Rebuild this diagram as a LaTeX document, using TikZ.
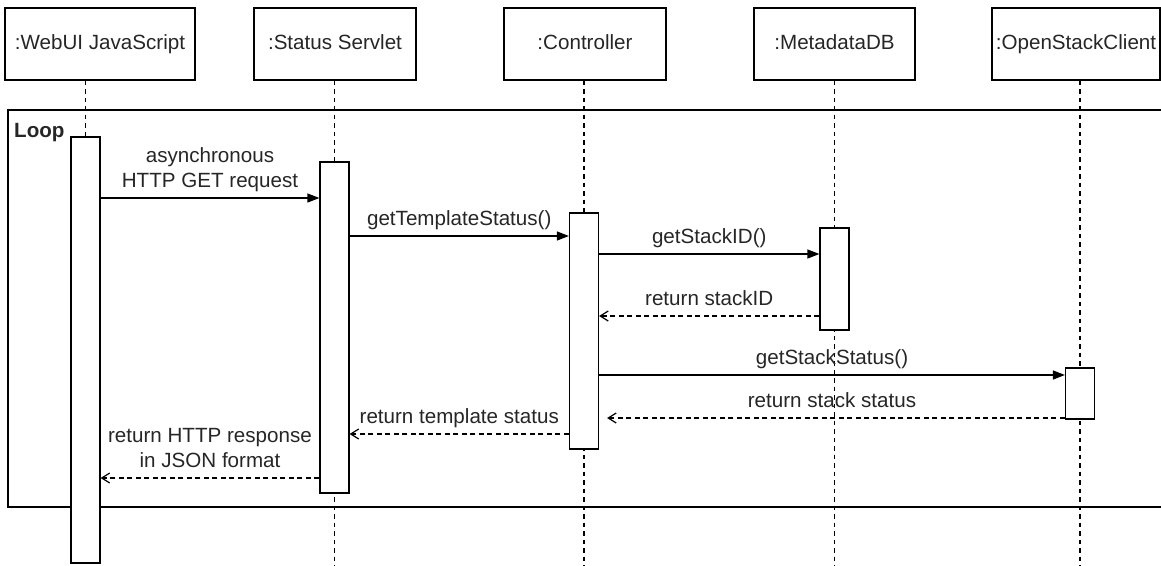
\documentclass[tikz,border=0pt]{standalone}
\usepackage{fontspec}
\setmainfont{Liberation Sans}
\usetikzlibrary{arrows.meta,calc}
\pgfdeclarelayer{background}
\pgfsetlayers{background,main}
\definecolor{ink}{HTML}{262626}
\begin{document}
\begin{tikzpicture}[x=1pt,y=-1pt,
  every node/.style={font=\fontsize{20.6}{24.5}\selectfont,text=ink},
  header/.style={draw,line width=1.2pt,minimum height=72pt,inner sep=0pt,
    text height=15pt,text depth=4.5pt},
  activation/.style={draw,fill=white,line width=1.2pt,minimum width=29pt,inner sep=0pt},
  lifeline/.style={line width=1.2pt,dash pattern=on 4.5pt off 4pt},
  frame/.style={line width=1.3pt},
  call/.style={line width=1.2pt,-{Triangle[length=12pt,width=9pt]}},
  reply/.style={line width=1.2pt,dash pattern=on 5pt off 3.5pt,
    -{Straight Barb[length=8pt,width=10pt]}},
  msg/.style={anchor=base,inner sep=0pt,yshift=11pt},
]
\useasboundingbox (0,0) rectangle (1161,565);

% participants
\node[header,minimum width=190pt] (h1) at (100,44) {:WebUI JavaScript};
\node[header,minimum width=162pt] (h2) at (335,44) {:Status Servlet};
\node[header,minimum width=162pt] (h3) at (585,44) {:Controller};
\node[header,minimum width=161pt] (h4) at (834.5,44) {:MetadataDB};
\node[header,minimum width=168pt] (h5) at (1076,44) {:OpenStackClient};

% activation bars
\node[activation,minimum height=426pt] (a1) at (85.5,350) {};
\node[activation,minimum height=331pt] (a2) at (334.5,327.5) {};
\node[activation,minimum height=236pt] (a3) at (584,331) {};
\node[activation,minimum height=102pt] (a4) at (834.5,279) {};
\node[activation,minimum height=51pt] (a5) at (1080,393.5) {};

\coordinate (bottom) at (0,566);

\begin{pgfonlayer}{background}
  % lifelines
  \draw[lifeline] (a1 |- h1.south) -- (a1.north);
  \draw[lifeline] (a2 |- h2.south) -- (a2 |- bottom);
  \draw[lifeline] (a3 |- h3.south) -- (a3 |- bottom);
  \draw[lifeline] (a4 |- h4.south) -- (a4 |- bottom);
  \draw[lifeline] (a5 |- h5.south) -- (a5 |- bottom);
  % loop frame
  \draw[frame] (1175,110) -- (8,110) -- (8,507) -- (1175,507);
\end{pgfonlayer}
\node[font=\fontsize{20.6}{24.5}\selectfont\bfseries,anchor=base west,inner sep=0pt]
  (loop) at (14,137) {Loop};

% messages
\draw[call] (a1.east |- 0,198) -- node[msg]
  {\begin{tabular}[b]{@{}c@{}}asynchronous\\HTTP GET request\end{tabular}}
  (a2.west |- 0,198);
\draw[call] (a2.east |- 0,236) -- node[msg] {getTemplateStatus()} (a3.west |- 0,236);
\draw[call] (a3.east |- 0,254) -- node[msg] {getStackID()} (a4.west |- 0,254);
\draw[reply] (a4.west |- 0,316) -- node[msg] {return stackID} (a3.east |- 0,316);
\draw[call] (a3.east |- 0,375) -- node[msg] {getStackStatus()} (a5.west |- 0,375);
\draw[reply,shorten >=8pt] (a5.west |- 0,418) -- node[msg] {return stack status} (a3.east |- 0,418);
\draw[reply] (a3.west |- 0,434) -- node[msg] {return template status} (a2.east |- 0,434);
\draw[reply] (a2.west |- 0,478) -- node[msg]
  {\begin{tabular}[b]{@{}c@{}}return HTTP response\\in JSON format\end{tabular}}
  (a1.east |- 0,478);
\end{tikzpicture}
\end{document}
